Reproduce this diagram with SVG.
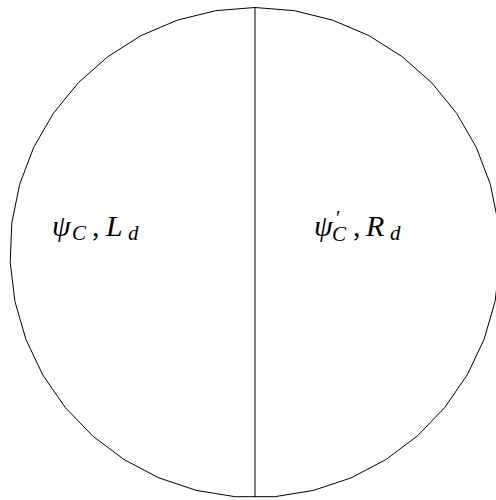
<svg xmlns="http://www.w3.org/2000/svg" width="496" height="500" viewBox="0 0 496 500">
<style>
.ln{fill:none;stroke:#000;stroke-width:1}
.t{font-family:"Liberation Serif","DejaVu Serif",serif;font-style:italic;font-size:30px;fill:#000}
.s{font-size:21px}
.u{font-style:normal}
</style>
<rect width="496" height="500" fill="#fff"/>
<g id="circle">
<polygon class="ln" points="255,7.5 294.30,10.67 332.59,20.11 368.86,35.56 402.17,56.63 431.69,82.78 456.63,113.32 476.35,147.47 490.33,184.34 498.21,222.97 499.80,262.37 495.05,301.50 484.08,339.38 467.18,375.0 444.78,407.45 417.46,435.89 385.93,459.58 351.03,477.90 313.63,490.38 274.71,496.71 235.29,496.71 196.37,490.38 158.97,477.90 124.07,459.58 92.54,435.89 65.22,407.45 42.82,375.0 25.92,339.38 14.95,301.50 10.20,262.37 11.79,222.97 19.67,184.34 33.65,147.47 53.37,113.32 78.31,82.78 107.83,56.63 141.14,35.56 177.41,20.11 215.70,10.67"/>
</g>
<g id="connectors">
<line class="ln" x1="255" y1="7.5" x2="255" y2="497"/>
</g>
<g id="left">
<text class="t" y="236"><tspan x="52">ψ</tspan><tspan class="s" x="72" y="240">C</tspan><tspan class="u" x="92" y="236">,</tspan><tspan x="106">L</tspan><tspan class="s" x="128" y="240">d</tspan></text>
</g>
<g id="right">
<text class="t" y="236"><tspan x="314">ψ</tspan><tspan class="s u" x="336" y="225">′</tspan><tspan class="s" x="332" y="241">C</tspan><tspan class="u" x="353" y="236">,</tspan><tspan x="366">R</tspan><tspan class="s" x="390" y="240">d</tspan></text>
</g>
</svg>
